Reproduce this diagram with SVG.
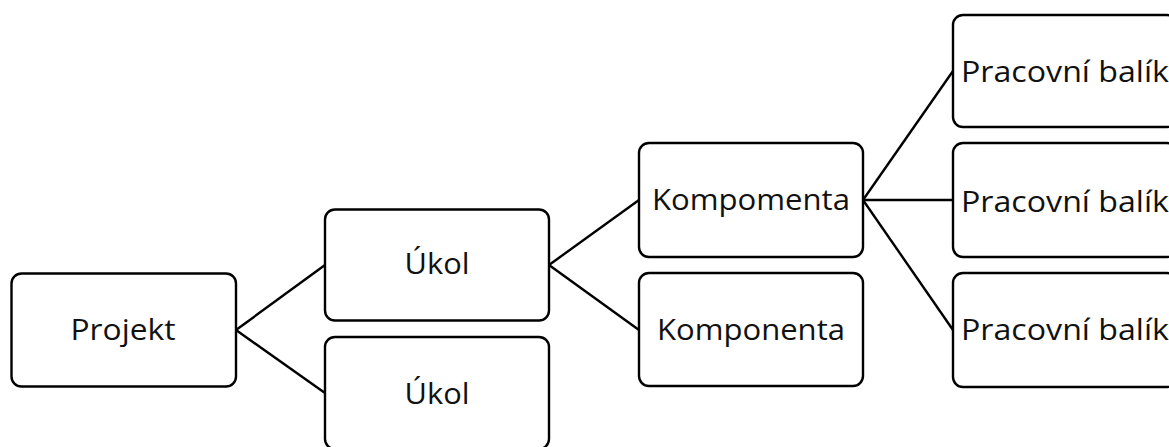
<svg xmlns="http://www.w3.org/2000/svg" width="1169" height="447" viewBox="0 0 1169 447">
<style>
.box{fill:#fff;stroke:#000;stroke-width:2.4}
.lbl{font-family:"Open Sans","Noto Sans","DejaVu Sans",sans-serif;font-size:30px;fill:#111;text-anchor:middle}
.con{stroke:#000;stroke-width:2.4;fill:none}
</style>
<rect width="1169" height="447" fill="#fff"/>
<g id="connectors">
<line class="con" x1="236" y1="330" x2="325" y2="265"/>
<line class="con" x1="236" y1="330" x2="325" y2="393"/>
<line class="con" x1="549" y1="265" x2="639" y2="200"/>
<line class="con" x1="549" y1="265" x2="639" y2="330"/>
<line class="con" x1="863" y1="200" x2="953" y2="71"/>
<line class="con" x1="863" y1="200" x2="953" y2="200"/>
<line class="con" x1="863" y1="200" x2="953" y2="330"/>
</g>
<g id="projekt"><rect class="box" x="11.5" y="273.5" width="224.5" height="113" rx="10"/><text class="lbl" x="123" y="340" textLength="105" lengthAdjust="spacingAndGlyphs">Projekt</text></g>
<g id="ukol1"><rect class="box" x="325" y="209.5" width="224" height="111" rx="10"/><text class="lbl" x="437" y="274" textLength="65" lengthAdjust="spacingAndGlyphs">Úkol</text></g>
<g id="ukol2"><rect class="box" x="325" y="337" width="224" height="112" rx="10"/><text class="lbl" x="437" y="404" textLength="65" lengthAdjust="spacingAndGlyphs">Úkol</text></g>
<g id="kompomenta"><rect class="box" x="639" y="143" width="224" height="114" rx="10"/><text class="lbl" x="751" y="210" textLength="198" lengthAdjust="spacingAndGlyphs">Kompomenta</text></g>
<g id="komponenta"><rect class="box" x="639" y="273" width="224" height="113" rx="10"/><text class="lbl" x="751" y="340" textLength="188" lengthAdjust="spacingAndGlyphs">Komponenta</text></g>
<g id="balik1"><rect class="box" x="953" y="15" width="224" height="112" rx="10"/><text class="lbl" x="1065" y="82" textLength="208" lengthAdjust="spacingAndGlyphs">Pracovní balík</text></g>
<g id="balik2"><rect class="box" x="953" y="143" width="224" height="114" rx="10"/><text class="lbl" x="1065" y="212" textLength="208" lengthAdjust="spacingAndGlyphs">Pracovní balík</text></g>
<g id="balik3"><rect class="box" x="953" y="273" width="224" height="114" rx="10"/><text class="lbl" x="1065" y="340" textLength="208" lengthAdjust="spacingAndGlyphs">Pracovní balík</text></g>
</svg>
